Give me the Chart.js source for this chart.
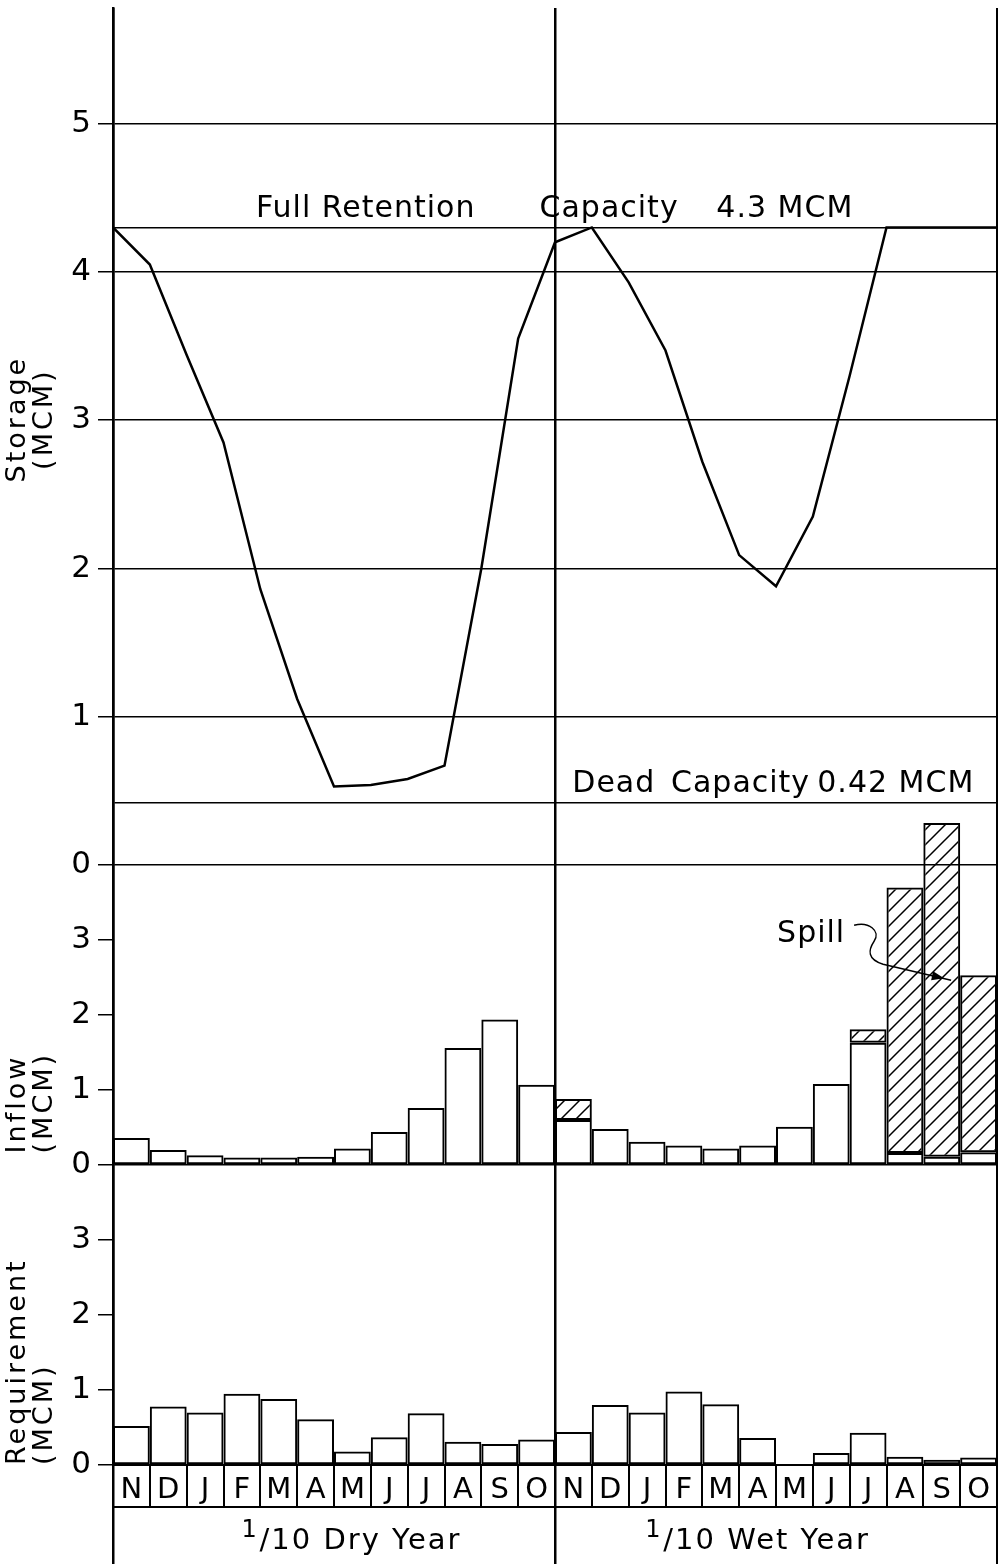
<!DOCTYPE html>
<html>
<head>
<meta charset="utf-8">
<script src="https://cdn.jsdelivr.net/npm/chart.js@4.4.1/dist/chart.umd.min.js"></script>
<style>
  html, body { margin: 0; padding: 0; background: #fff; }
  #wrap { width: 998px; height: 1564px; }
</style>
</head>
<body>
<div id="wrap"><canvas id="reservoirChart" width="998" height="1564"></canvas></div>
<script>
// months run Nov..Oct, 1/10 dry year first, then 1/10 wet year
var months = ['N', 'D', 'J', 'F', 'M', 'A', 'M', 'J', 'J', 'A', 'S', 'O'];
var yearLabels = ['Dry', 'Wet'];

// storage (MCM) at month boundaries, 13 points per year
var storageDry = [4.30, 4.05, 3.44, 2.85, 1.86, 1.12, 0.53, 0.54, 0.58, 0.67, 2.00, 3.55, 4.20];
var storageWet = [4.20, 4.30, 3.93, 3.47, 2.72, 2.09, 1.88, 2.35, 3.30, 4.30, 4.30, 4.30, 4.30];

// inflow (MCM): part kept + spill on top
var inflowDry = [0.36, 0.20, 0.13, 0.10, 0.10, 0.11, 0.22, 0.44, 0.76, 1.56, 1.94, 1.07];
var spillDry  = [0, 0, 0, 0, 0, 0, 0, 0, 0, 0, 0, 0];
var inflowWet = [0.60, 0.48, 0.31, 0.26, 0.22, 0.26, 0.51, 1.08, 1.63, 0.16, 0.11, 0.17];
var spillWet  = [0.28, 0, 0, 0, 0, 0, 0, 0, 0.18, 3.54, 4.45, 2.36];

// requirement (MCM)
var reqDry = [0.52, 0.78, 0.70, 0.95, 0.88, 0.61, 0.18, 0.37, 0.69, 0.31, 0.28, 0.34];
var reqWet = [0.44, 0.80, 0.70, 0.98, 0.81, 0.36, 0, 0.16, 0.43, 0.11, 0.07, 0.10];

var storageTicks = [0, 1, 2, 3, 4, 5];
var storageLevels = [0.42, 4.3];   // dead capacity, full retention capacity
var inflowTicks = [0, 1, 2, 3];
var reqTicks = [0, 1, 2, 3];
var yearBounds = [0, 12, 24];

var FONT = '"DejaVu Sans", sans-serif';
Chart.defaults.font.family = FONT;
Chart.defaults.color = '#000';

function monthBars(dry, wet) {
    var pts = [];
    dry.forEach(function(v, i) { pts.push({x: i + 0.5, y: v}); });
    wet.forEach(function(v, i) { pts.push({x: 12 + i + 0.5, y: v}); });
    return pts;
}

function boundaryPts(dry, wet) {
    var pts = [];
    dry.forEach(function(v, i) { pts.push({x: i, y: v}); });
    wet.forEach(function(v, i) { pts.push({x: 12 + i, y: v}); });
    return pts;
}

function useTicks(list) {
    return function(scale) {
        scale.ticks = list.map(function(v) { return {value: v}; });
    };
}

function fixWidth(scale) {
    scale.width = 113;
    scale.paddingTop = 0;
    scale.paddingBottom = 0;
}

var canvas = document.getElementById('reservoirChart');
var ctx = canvas.getContext('2d');

// diagonal hatch for spill
var tile = document.createElement('canvas');
tile.width = 15; tile.height = 15;
var t = tile.getContext('2d');
t.strokeStyle = '#000';
t.lineWidth = 1.5;
t.beginPath();
t.moveTo(0, 15); t.lineTo(15, 0);
t.moveTo(-8, 8); t.lineTo(8, -8);
t.moveTo(7, 23); t.lineTo(23, 7);
t.stroke();
var hatch = ctx.createPattern(tile, 'repeat');

var clear = 'rgba(0,0,0,0)';
var barStyle = {
    borderColor: '#000',
    borderWidth: 2,
    borderSkipped: false,
    grouped: false,
    inflateAmount: 0,
    barPercentage: 1,
    categoryPercentage: 1,
    clip: false
};

function bars(extra) {
    return Object.assign({type: 'bar'}, barStyle, extra);
}

var fullLines = {
    id: 'annotate',
    beforeDraw: function(chart) {
        chart.ctx.letterSpacing = '3px';
    },
    afterDraw: function(chart) {
        var c = chart.ctx;
        var x = chart.scales.x, yS = chart.scales.yS, yI = chart.scales.yI;
        c.save();
        c.fillStyle = '#000';
        c.strokeStyle = '#000';
        c.textBaseline = 'alphabetic';
        c.textAlign = 'left';
        c.font = '30px ' + FONT;
        c.letterSpacing = '1px';

        var yFull = yS.getPixelForValue(4.3) - 10;
        c.fillText('Full Retention', x.getPixelForValue(3.88), yFull);
        c.fillText('Capacity', x.getPixelForValue(11.58), yFull);
        c.fillText('4.3 MCM', x.getPixelForValue(16.38), yFull);

        var yDead = yS.getPixelForValue(0.42) - 11;
        c.fillText('Dead', x.getPixelForValue(12.47), yDead);
        c.fillText('Capacity', x.getPixelForValue(15.15), yDead);
        c.fillText('0.42 MCM', x.getPixelForValue(19.12), yDead);

        // spill label with curly leader
        var sx = x.getPixelForValue(18.03), sy = yI.getPixelForValue(2.97);
        c.fillText('Spill', sx, sy);
        c.lineWidth = 1.4;
        c.beginPath();
        c.moveTo(sx + 77, sy - 17);
        c.bezierCurveTo(sx + 92, sy - 21, sx + 104, sy - 11, sx + 97, sy - 1);
        c.bezierCurveTo(sx + 91, sy + 8, sx + 90, sy + 17, sx + 106, sy + 22);
        c.lineTo(sx + 174, sy + 38);
        c.stroke();
        c.beginPath();
        c.moveTo(sx + 167, sy + 36);
        c.lineTo(sx + 156, sy + 29);
        c.lineTo(sx + 154, sy + 38);
        c.closePath();
        c.fill();

        // month letters in the boxes under the requirement panel
        c.letterSpacing = '0px';
        c.textAlign = 'center';
        c.font = '29px ' + FONT;
        for (var i = 0; i < 24; i++) {
            c.fillText(months[i % 12], x.getPixelForValue(i + 0.5), x.top + 33);
        }

        // year labels
        var x2 = chart.scales.x2;
        c.textAlign = 'left';
        var starts = [3.6, 14.56];
        yearLabels.forEach(function(name, k) {
            var px = x.getPixelForValue(starts[k]);
            c.letterSpacing = '0px';
            c.font = '24px ' + FONT;
            c.fillText('1', px - 4, x2.top + 30);
            c.letterSpacing = '2px';
            c.font = '29px ' + FONT;
            c.fillText('/10 ' + name + ' Year', px + 14, x2.top + 42);
        });
        c.restore();
    }
};

new Chart(ctx, {
    type: 'bar',
    data: {
        datasets: [
            bars({label: 'Inflow', data: monthBars(inflowDry, inflowWet), yAxisID: 'yI', stack: 'inflow',
                  backgroundColor: clear}),
            bars({label: 'Spill', data: monthBars(spillDry, spillWet), yAxisID: 'yI', stack: 'inflow',
                  backgroundColor: hatch}),
            bars({label: 'Requirement', data: monthBars(reqDry, reqWet), yAxisID: 'yR', stack: 'req',
                  backgroundColor: clear}),
            {
                type: 'line',
                label: 'Storage',
                data: boundaryPts(storageDry, storageWet),
                yAxisID: 'yS',
                borderColor: '#000',
                borderWidth: 2.5,
                pointRadius: 0,
                tension: 0,
                fill: false
            }
        ]
    },
    options: {
        responsive: false,
        animation: false,
        devicePixelRatio: 1,
        layout: {padding: {top: 8, right: 1, bottom: 0, left: 0}, autoPadding: false},
        plugins: {legend: {display: false}, tooltip: {enabled: false}},
        scales: {
            x: {
                type: 'linear', position: 'bottom', min: 0, max: 24, offset: false, weight: 1,
                afterBuildTicks: function(s) {
                    var list = [];
                    for (var i = 0; i <= 24; i++) list.push({value: i});
                    s.ticks = list;
                },
                ticks: {display: false},
                border: {display: true, color: '#000', width: 2},
                grid: {
                    offset: false,
                    tickLength: 42,
                    color: function(c) { return c.tick && yearBounds.indexOf(c.tick.value) >= 0 ? '#000' : clear; },
                    tickColor: '#000',
                    lineWidth: function(c) { return c.tick && yearBounds.indexOf(c.tick.value) >= 0 ? 2.5 : 2; }
                }
            },
            x2: {
                type: 'linear', position: 'bottom', min: 0, max: 24, offset: false, weight: 2,
                afterBuildTicks: useTicks(yearBounds),
                ticks: {display: false},
                border: {display: true, color: '#000', width: 2},
                grid: {offset: false, drawOnChartArea: false, tickLength: 57, color: '#000', lineWidth: 2.5}
            },
            yS: {
                type: 'linear', position: 'left', stack: 'panels', stackWeight: 857, weight: 3,
                min: 0, max: 5.78,
                afterBuildTicks: useTicks(storageTicks.concat(storageLevels).sort(function(a, b) { return a - b; })),
                afterFit: fixWidth,
                ticks: {
                    font: {size: 31}, padding: 4,
                    callback: function(v) { return storageTicks.indexOf(v) >= 0 ? String(v) : ''; }
                },
                border: {display: true, color: '#000', width: 2.5},
                grid: {
                    color: '#000', lineWidth: 1.5, tickLength: 15,
                    tickColor: function(c) { return c.tick && storageLevels.indexOf(c.tick.value) >= 0 ? clear : '#000'; }
                },
                title: {
                    display: true, text: ['   Storage', '   (MCM)'], align: 'center',
                    font: {size: 27, lineHeight: 0.98}, padding: {top: 5, bottom: 0}
                }
            },
            yI: {
                type: 'linear', position: 'left', stack: 'panels', stackWeight: 300, weight: 2,
                min: 0, max: 4, stacked: true,
                afterBuildTicks: useTicks(inflowTicks),
                afterFit: fixWidth,
                ticks: {font: {size: 31}, padding: 4},
                border: {display: true, color: '#000', width: 2.5},
                grid: {
                    color: function(c) { return c.tick && c.tick.value === 0 ? '#000' : clear; },
                    tickColor: '#000', lineWidth: 1.5, tickLength: 15
                },
                title: {
                    display: true, text: [' Inflow', ' (MCM)'], align: 'start',
                    font: {size: 27, lineHeight: 0.98}, padding: {top: 5, bottom: 0}
                }
            },
            yR: {
                type: 'linear', position: 'left', stack: 'panels', stackWeight: 300, weight: 1,
                min: 0, max: 4,
                afterBuildTicks: useTicks(reqTicks),
                afterFit: fixWidth,
                ticks: {font: {size: 31}, padding: 4},
                border: {display: true, color: '#000', width: 2.5},
                grid: {
                    color: function(c) { return c.tick && c.tick.value === 0 ? '#000' : clear; },
                    tickColor: '#000', lineWidth: 1.5, tickLength: 15
                },
                title: {
                    display: true, text: ['Requirement', '(MCM)'], align: 'start',
                    font: {size: 27, lineHeight: 0.98}, padding: {top: 5, bottom: 0}
                }
            }
        }
    },
    plugins: [fullLines]
});
</script>
</body>
</html>
